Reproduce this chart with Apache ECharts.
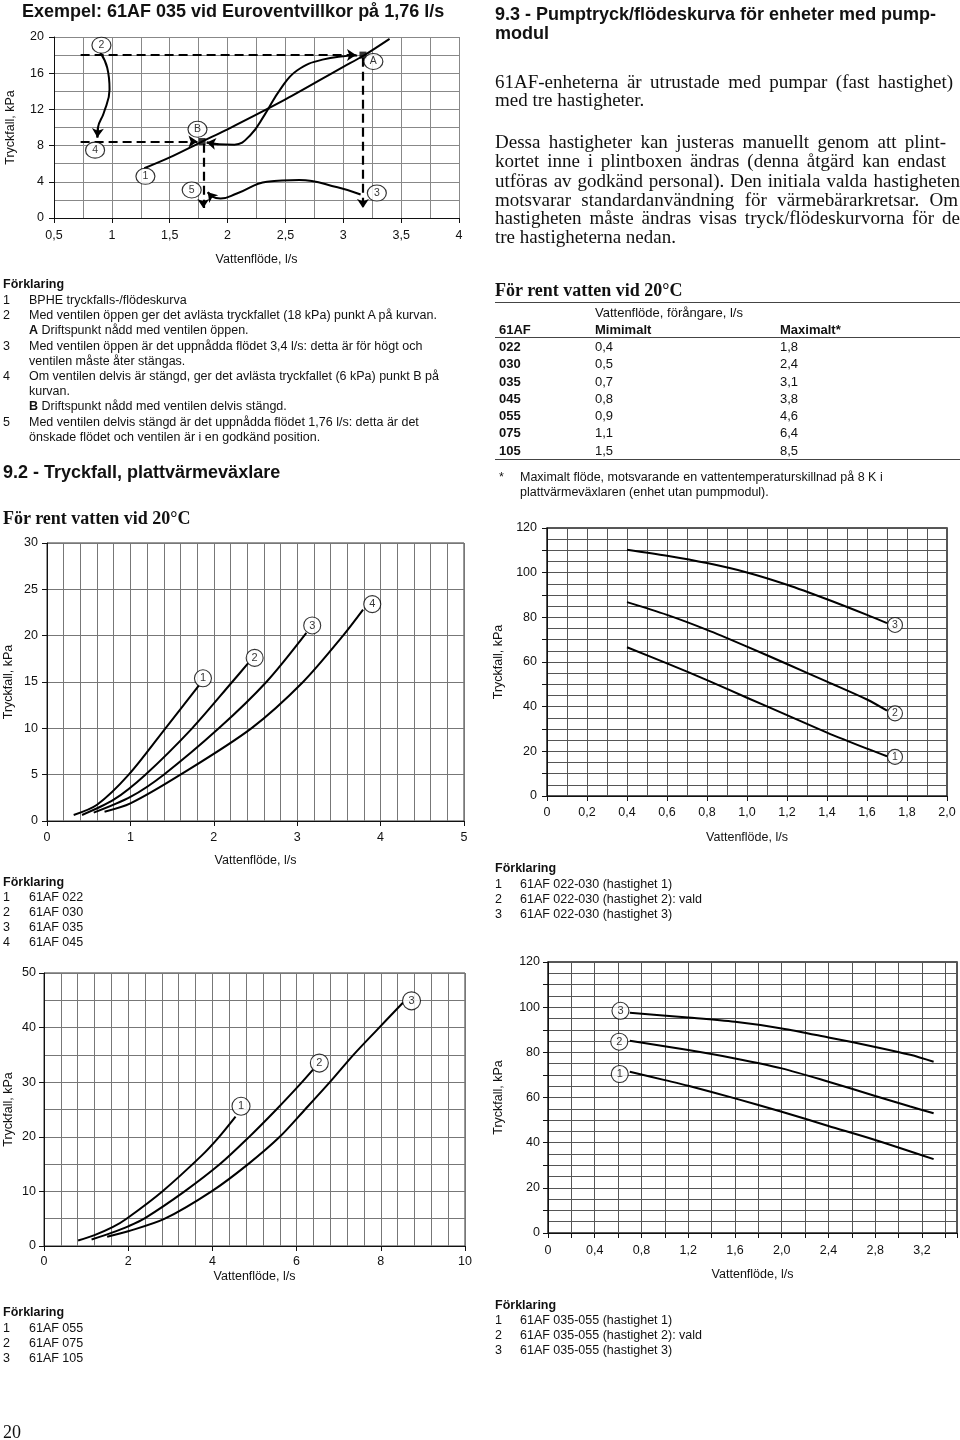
<!DOCTYPE html>
<html><head><meta charset="utf-8">
<script src="https://cdn.jsdelivr.net/npm/echarts@6/dist/echarts.min.js"></script>
<style>
html,body{margin:0;padding:0;background:#fff;}
#page{position:relative;width:960px;height:1440px;overflow:hidden;background:#fff;}
#chart{position:absolute;left:0;top:0;width:960px;height:1440px;}
.t{position:absolute;white-space:nowrap;font-family:'Liberation Sans',Arial,sans-serif;font-size:12.5px;line-height:15px;height:15px;color:#111;z-index:2;}
.h{font-weight:bold;font-size:18px;line-height:22px;height:22px;}
.s{font-family:'Liberation Serif','Times New Roman',serif;}
.p{font-family:'Liberation Serif','Times New Roman',serif;font-size:19px;line-height:22px;height:22px;}
.b{font-weight:bold;}
.j{text-align:justify;text-align-last:justify;}
.tb{font-size:13px;}
.hr{position:absolute;height:0;border-top:1px solid #444;z-index:2;}
</style></head>
<body>
<div id="page">
<div id="chart"></div>

<!-- LEFT COLUMN -->
<div class="t h" style="left:22px;top:0px">Exempel: 61AF 035 vid Euroventvillkor på 1,76 l/s</div>

<div class="t b" style="left:3px;top:277px">Förklaring</div>
<div class="t" style="left:3px;top:293px">1</div><div class="t" style="left:29px;top:293px">BPHE tryckfalls-/flödeskurva</div>
<div class="t" style="left:3px;top:308px">2</div><div class="t" style="left:29px;top:308px">Med ventilen öppen ger det avlästa tryckfallet (18 kPa) punkt A på kurvan.</div>
<div class="t" style="left:29px;top:323px"><b>A</b> Driftspunkt nådd med ventilen öppen.</div>
<div class="t" style="left:3px;top:339px">3</div><div class="t" style="left:29px;top:339px">Med ventilen öppen är det uppnådda flödet 3,4 l/s: detta är för högt och</div>
<div class="t" style="left:29px;top:354px">ventilen måste åter stängas.</div>
<div class="t" style="left:3px;top:369px">4</div><div class="t" style="left:29px;top:369px">Om ventilen delvis är stängd, ger det avlästa tryckfallet (6 kPa) punkt B på</div>
<div class="t" style="left:29px;top:384px">kurvan.</div>
<div class="t" style="left:29px;top:399px"><b>B</b> Driftspunkt nådd med ventilen delvis stängd.</div>
<div class="t" style="left:3px;top:415px">5</div><div class="t" style="left:29px;top:415px">Med ventilen delvis stängd är det uppnådda flödet 1,76 l/s: detta är det</div>
<div class="t" style="left:29px;top:430px">önskade flödet och ventilen är i en godkänd position.</div>

<div class="t h" style="left:3px;top:461px">9.2 - Tryckfall, plattvärmeväxlare</div>
<div class="t h s" style="left:3px;top:507px">För rent vatten vid 20°C</div>

<div class="t b" style="left:3px;top:875px">Förklaring</div>
<div class="t" style="left:3px;top:890px">1</div><div class="t" style="left:29px;top:890px">61AF 022</div>
<div class="t" style="left:3px;top:905px">2</div><div class="t" style="left:29px;top:905px">61AF 030</div>
<div class="t" style="left:3px;top:920px">3</div><div class="t" style="left:29px;top:920px">61AF 035</div>
<div class="t" style="left:3px;top:935px">4</div><div class="t" style="left:29px;top:935px">61AF 045</div>

<div class="t b" style="left:3px;top:1305px">Förklaring</div>
<div class="t" style="left:3px;top:1321px">1</div><div class="t" style="left:29px;top:1321px">61AF 055</div>
<div class="t" style="left:3px;top:1336px">2</div><div class="t" style="left:29px;top:1336px">61AF 075</div>
<div class="t" style="left:3px;top:1351px">3</div><div class="t" style="left:29px;top:1351px">61AF 105</div>

<div class="t s" style="left:3px;top:1421px;font-size:18px;line-height:22px;height:22px">20</div>

<!-- RIGHT COLUMN -->
<div class="t h" style="left:495px;top:3px">9.3 - Pumptryck/flödeskurva för enheter med pump-</div>
<div class="t h" style="left:495px;top:22px">modul</div>

<div class="t p j" style="left:495px;top:71px;width:458px">61AF-enheterna är utrustade med pumpar (fast hastighet)</div>
<div class="t p" style="left:495px;top:89px">med tre hastigheter.</div>

<div class="t p j" style="left:495px;top:131px;width:451px">Dessa hastigheter kan justeras manuellt genom att plint-</div>
<div class="t p j" style="left:495px;top:150px;width:451px">kortet inne i plintboxen ändras (denna åtgärd kan endast</div>
<div class="t p j" style="left:495px;top:170px;width:465px">utföras av godkänd personal). Den initiala valda hastigheten</div>
<div class="t p j" style="left:495px;top:189px;width:463px">motsvarar standardanvändning för värmebärarkretsar. Om</div>
<div class="t p j" style="left:495px;top:207px;width:465px">hastigheten måste ändras visas tryck/flödeskurvorna för de</div>
<div class="t p" style="left:495px;top:226px">tre hastigheterna nedan.</div>

<div class="t h s" style="left:495px;top:279px">För rent vatten vid 20°C</div>
<div class="hr" style="left:495px;width:465px;top:302px"></div>
<div class="t tb" style="left:595px;top:305px">Vattenflöde, förångare, l/s</div>
<div class="t tb b" style="left:499px;top:322px">61AF</div>
<div class="t tb b" style="left:595px;top:322px">Mimimalt</div>
<div class="t tb b" style="left:780px;top:322px">Maximalt*</div>
<div class="hr" style="left:495px;width:465px;top:337px"></div>
<div id="tbl"></div>
<div class="hr" style="left:495px;width:465px;top:459px"></div>
<div class="t" style="left:499px;top:470px">*</div>
<div class="t" style="left:520px;top:470px">Maximalt flöde, motsvarande en vattentemperaturskillnad på 8 K i</div>
<div class="t" style="left:520px;top:485px">plattvärmeväxlaren (enhet utan pumpmodul).</div>

<div class="t b" style="left:495px;top:861px">Förklaring</div>
<div class="t" style="left:495px;top:877px">1</div><div class="t" style="left:520px;top:877px">61AF 022-030 (hastighet 1)</div>
<div class="t" style="left:495px;top:892px">2</div><div class="t" style="left:520px;top:892px">61AF 022-030 (hastighet 2): vald</div>
<div class="t" style="left:495px;top:907px">3</div><div class="t" style="left:520px;top:907px">61AF 022-030 (hastighet 3)</div>

<div class="t b" style="left:495px;top:1298px">Förklaring</div>
<div class="t" style="left:495px;top:1313px">1</div><div class="t" style="left:520px;top:1313px">61AF 035-055 (hastighet 1)</div>
<div class="t" style="left:495px;top:1328px">2</div><div class="t" style="left:520px;top:1328px">61AF 035-055 (hastighet 2): vald</div>
<div class="t" style="left:495px;top:1343px">3</div><div class="t" style="left:520px;top:1343px">61AF 035-055 (hastighet 3)</div>
</div>

<script>
// ---------- DATA ----------
// Table (section "För rent vatten vid 20°C")
const tableModels = ['022', '030', '035', '045', '055', '075', '105'];
const tableMin = ['0,4', '0,5', '0,7', '0,8', '0,9', '1,1', '1,5'];
const tableMax = ['1,8', '2,4', '3,1', '3,8', '4,6', '6,4', '8,5'];

// Chart 1: example 61AF 035
const exCurve1 = [[1.28,5.5],[1.5,6.7],[1.78,8.45],[2.0,9.8],[2.5,13.1],[3.0,16.7],[3.17,17.9],[3.4,19.8]];
const exPoints = [[1.78,8.45],[3.17,18.0]];
const exArrow2to4 = [[0.90,18.3],[0.96,16.6],[0.98,14.2],[0.93,11.6],[0.88,10.0],[0.875,8.9]];
const exArrowAtoB = [[3.12,17.95],[2.82,17.5],[2.6,16.3],[2.46,14.3],[2.32,11.4],[2.2,9.2],[2.06,8.1],[1.92,8.15],[1.82,8.35]];
const exArrow3to5 = [[3.15,2.6],[2.95,3.4],[2.62,4.2],[2.34,4.0],[2.08,2.7],[1.94,2.15],[1.86,2.4],[1.83,2.85]];
const exDashed = [
  [[0.73,18.0],[3.11,18.0]],
  [[3.17,17.7],[3.17,1.1]],
  [[0.73,8.45],[1.74,8.45]],
  [[1.79,8.2],[1.79,1.1]]
];
const exLabels = [['2',0.91,19.1],['4',0.855,7.5],['1',1.29,4.6],['B',1.74,9.8],['A',3.26,17.3],['5',1.69,3.1],['3',3.29,2.75]];

// Chart 2: pressure drop 61AF 022..045
const pd1 = [
  [[0.32,0.65],[0.6,1.75],[0.98,5.0],[1.42,10.0],[1.82,14.6]],
  [[0.42,0.65],[0.8,2.3],[1.18,5.0],[1.74,10.0],[2.22,15.0],[2.41,17.0]],
  [[0.56,0.9],[1.0,2.6],[1.4,5.0],[2.06,10.0],[2.63,15.0],[3.11,20.3]],
  [[0.69,1.0],[1.0,1.9],[1.6,5.0],[2.45,10.0],[3.07,15.0],[3.55,20.0],[3.79,22.8]]
];
const pd1Labels = [['1',1.87,15.4],['2',2.49,17.6],['3',3.18,21.1],['4',3.9,23.4]];

// Chart 3: pressure drop 61AF 055..105
const pd2 = [
  [[0.81,1.0],[1.2,2.0],[1.64,3.5],[1.96,5.0],[2.81,10.0],[3.75,16.6],[4.15,19.9],[4.55,23.7]],
  [[1.13,1.2],[1.6,2.4],[2.0,3.6],[2.4,5.1],[3.34,10.0],[4.18,15.0],[4.85,19.8],[5.52,25.0],[6.08,29.6],[6.39,32.3]],
  [[1.5,1.7],[2.0,2.7],[2.87,5.0],[3.98,10.0],[4.85,15.0],[5.6,20.0],[6.2,25.0],[6.79,30.0],[7.35,35.0],[7.9,39.5],[8.53,44.6]]
];
const pd2Labels = [['1',4.68,25.6],['2',6.54,33.5],['3',8.73,44.9]];

// Chart 4: pump curves 61AF 022-030
const pump1 = [
  [[0.4,66.6],[0.6,59.4],[0.8,51.9],[1.0,44.0],[1.2,36.2],[1.4,28.4],[1.6,21.2],[1.7,17.8]],
  [[0.4,86.8],[0.6,81.1],[0.8,74.4],[1.0,66.9],[1.2,59.1],[1.4,51.2],[1.6,43.2],[1.7,38.2]],
  [[0.4,110.3],[0.6,107.6],[0.8,104.3],[1.0,100.1],[1.2,94.6],[1.4,88.1],[1.6,81.1],[1.7,77.4]]
];
const pump1Labels = [['1',1.74,17.5],['2',1.74,37.0],['3',1.74,76.6]];

// Chart 5: pump curves 61AF 035-055
const pump2 = [
  [[0.7,71.4],[1.0,67.7],[1.2,65.2],[1.6,59.6],[2.0,53.7],[2.4,47.4],[2.8,41.2],[3.3,32.7]],
  [[0.7,85.1],[1.2,81.0],[1.6,77.3],[2.0,72.9],[2.4,67.0],[2.8,60.7],[3.1,56.0],[3.3,53.0]],
  [[0.7,97.5],[1.2,95.4],[1.6,93.5],[2.0,90.6],[2.4,86.6],[2.8,82.4],[3.1,78.9],[3.3,75.8]]
];
const pump2Labels = [['1',0.614,70.4],['2',0.61,84.7],['3',0.62,98.4]];

// Axis scales [min, max, interval]
const axX = [[0.5,4,0.5],[0,5,1],[0,10,2],[0,2,0.2],[0,3.5,0.2]];
const axY = [[0,20,4],[0,30,5],[0,50,10],[0,120,10],[0,120,10]];
const axisXName = 'Vattenflöde, l/s';
const axisYName = 'Tryckfall, kPa';

// ---------- TABLE ----------
(function(){
  const host = document.getElementById('tbl');
  const tops = [339,356,374,391,408,425,443];
  tableModels.forEach((m,i)=>{
    const r = document.createElement('div');
    r.innerHTML = '<div class="t tb b" style="left:499px;top:'+tops[i]+'px">'+m+'</div>'+
      '<div class="t tb" style="left:595px;top:'+tops[i]+'px">'+tableMin[i]+'</div>'+
      '<div class="t tb" style="left:780px;top:'+tops[i]+'px">'+tableMax[i]+'</div>';
    host.appendChild(r);
  });
})();

// ---------- CHART ----------
const FONT = 'Liberation Sans';
const comma = v => String(+v.toFixed(2)).replace('.', ',');
const oneDec = v => v === 0 ? '0' : v.toFixed(1).replace('.', ',');

const grids = [
  {left:54, top:37, width:405, height:181},
  {left:47, top:543, width:417, height:278, show:true, borderColor:'#333', borderWidth:1},
  {left:44, top:973, width:421, height:273, show:true, borderColor:'#333', borderWidth:1},
  {left:547, top:528, width:400, height:268, show:true, borderColor:'#222', borderWidth:1.5},
  {left:548, top:962, width:409, height:271, show:true, borderColor:'#222', borderWidth:1.5}
];
const gridColor = ['#888','#777','#777','#555','#555'];
const xMinor = [2,5,5,2,0];
const yMinor = [2,0,2,2,2];
const xFmt = [comma, v=>String(v), v=>String(v), oneDec, v => (Math.round(v*10)%4===0 ? oneDec(v) : '')];
const yFmt = [v=>String(v), v=>String(v), v=>String(v), v => (v%20===0 ? String(v) : ''), v => (v%20===0 ? String(v) : '')];
const xLabelMargin = [11,10,9,10,11];
const yLabelMargin = [10,9,8,10,8];
const xNameGap = [35,33,24,35,35];
const yNameGap = [37,32,29,42,43];

function mkAxis(i, isX){
  const s = isX ? axX[i] : axY[i];
  const minor = isX ? xMinor[i] : yMinor[i];
  return {
    type:'value', gridIndex:i, min:s[0], max:s[1], interval:s[2],
    name: isX ? axisXName : axisYName, nameLocation:'middle',
    nameGap: isX ? xNameGap[i] : yNameGap[i],
    nameTextStyle:{color:'#111', fontSize:12.5, fontFamily:FONT},
    axisLine:{show:true, onZero:false, lineStyle:{color:'#111', width:1}},
    axisTick:{show:true, length:5, lineStyle:{color:'#111', width:1}},
    axisLabel:{color:'#111', fontSize:12.5, fontFamily:FONT, margin: isX ? xLabelMargin[i] : yLabelMargin[i],
      formatter: isX ? xFmt[i] : yFmt[i], showMinLabel:true, showMaxLabel:true, hideOverlap:false},
    splitLine:{show:true, lineStyle:{color:gridColor[i], width:1}},
    minorTick:{show:false, splitNumber: minor || 5},
    minorSplitLine:{show: minor > 0, lineStyle:{color:gridColor[i], width:1}},
    z: 3
  };
}

const xAxes = [], yAxes = [];
for (let i=0;i<5;i++){ xAxes.push(mkAxis(i,true)); yAxes.push(mkAxis(i,false)); }

const series = [];
function curve(i, pts, smooth){
  series.push({type:'line', xAxisIndex:i, yAxisIndex:i, data:pts, smooth: smooth==null?0.3:smooth,
    showSymbol:false, symbol:'none', lineStyle:{color:'#000', width:2}, z:5, silent:true});
}
function arrowHead(i, a, b){
  series.push({type:'lines', coordinateSystem:'cartesian2d', xAxisIndex:i, yAxisIndex:i,
    data:[{coords:[a,b]}], symbol:['none','arrow'], symbolSize:9,
    lineStyle:{color:'#000', width:2, opacity:1}, z:6, silent:true});
}
function dashed(i, seg){
  series.push({type:'lines', coordinateSystem:'cartesian2d', xAxisIndex:i, yAxisIndex:i,
    data:[{coords:seg}], symbol:['none','arrow'], symbolSize:9,
    lineStyle:{color:'#000', width:2.2, type:[9,5], opacity:1}, z:6, silent:true});
}
function circles(i, labels, size, fs){
  series.push({type:'scatter', xAxisIndex:i, yAxisIndex:i, symbol:'circle', symbolSize:size,
    data: labels.map(l => ({name:l[0], value:[l[1], l[2]]})),
    itemStyle:{color:'#fff', borderColor:'#000', borderWidth:1.1},
    label:{show:true, position:'inside', formatter:'{b}', color:'#000', fontSize:fs, fontFamily:FONT},
    z:10, silent:true});
}

// Chart 1
curve(0, exCurve1, 0.3);
[exArrow2to4, exArrowAtoB, exArrow3to5].forEach(p => {
  curve(0, p, 0.45);
  arrowHead(0, p[p.length-2], p[p.length-1]);
});
exDashed.forEach(s => dashed(0, s));
series.push({type:'scatter', xAxisIndex:0, yAxisIndex:0, symbol:'rect', symbolSize:7, data:exPoints,
  itemStyle:{color:'#000'}, z:8, silent:true});
circles(0, exLabels, [19,16], 10.5);

// Chart 2
pd1.forEach(p => curve(1, p));
circles(1, pd1Labels, 17, 11);
// Chart 3
pd2.forEach(p => curve(2, p));
circles(2, pd2Labels, 18, 11);
// Chart 4
pump1.forEach(p => curve(3, p));
circles(3, pump1Labels, 15, 10.5);
// Chart 5
pump2.forEach(p => curve(4, p));
circles(4, pump2Labels, 17, 11);

const chart = echarts.init(document.getElementById('chart'), null, {renderer:'canvas'});
chart.setOption({
  animation:false,
  backgroundColor:'#fff',
  textStyle:{fontFamily:FONT},
  grid: grids,
  xAxis: xAxes,
  yAxis: yAxes,
  series: series
});
</script>
</body></html>
